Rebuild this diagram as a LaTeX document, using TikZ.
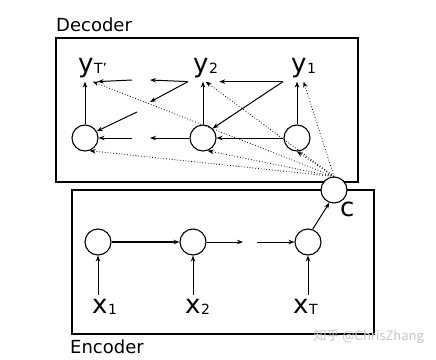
\documentclass[tikz,border=0pt]{standalone}
\usepackage{fontspec}
\setmainfont{DejaVu Sans}
\newfontfamily\cjkfont{Noto Sans CJK SC}
\usetikzlibrary{arrows.meta}

\newcommand{\lbl}[2]{#1\kern0.5pt\raisebox{-1.5pt}{\fontsize{14}{14}\selectfont #2}}

\begin{document}
\begin{tikzpicture}[x=1pt, y=-1pt,
    cell/.style={draw, circle, fill=white, line width=1.1pt, minimum size=26pt, inner sep=0pt},
    lab/.style={font=\fontsize{26}{26}\selectfont, inner xsep=1pt, inner ysep=4pt},
    title/.style={font=\fontsize{18}{18}\selectfont, inner sep=0pt, anchor=base west},
    arr/.style={-{Stealth[length=6pt,width=4.5pt]}, line width=1pt},
    cue/.style={-{Stealth[length=6pt,width=4.5pt]}, dotted, line width=0.8pt}]
    \useasboundingbox (0,0) rectangle (436,359);

    % Boxes
    \draw[line width=1.1pt] (56,38) rectangle (358,182);
    \draw[line width=1.1pt] (72,190) rectangle (374,334);
    \node[title] (dectitle) at (56,31) {Decoder};
    \node[title] (enctitle) at (70,353) {Encoder};

    % Decoder states and outputs
    \node[cell] (sT) at (85,138) {};
    \node[cell] (s2) at (203,138) {};
    \node[cell] (s1) at (297,138) {};
    \node[lab, anchor=base west] (yT) at (77,72) {\lbl{y}{T'}};
    \node[lab, anchor=base west] (y2) at (192,72) {\lbl{y}{2}};
    \node[lab, anchor=base west] (y1) at (290,72) {\lbl{y}{1}};

    % Encoder states and inputs
    \node[cell] (h1) at (98,242) {};
    \node[cell] (h2) at (193,242) {};
    \node[cell] (hT) at (308,242) {};
    \node[lab, anchor=base west] (x1) at (91,313) {\lbl{x}{1}};
    \node[lab, anchor=base west] (x2) at (184,313) {\lbl{x}{2}};
    \node[lab, anchor=base west] (xT) at (292,313) {\lbl{x}{T}};

    % Context vector
    \node[cell] (c) at (334,190) {};
    \node[lab, anchor=base west, inner sep=0pt] (clab) at (340,216) {c};

    % Gaps in the broken chains
    \coordinate (y1out) at ([xshift=-7pt]y1.south west);
    \coordinate (y2out) at ([xshift=-4pt]y2.south west);
    \coordinate (yTin) at ([xshift=5pt]yT.south);
    \coordinate (ta) at (150,80);
    \coordinate (tb) at (132,80);
    \coordinate (da) at (150,102);
    \coordinate (db) at (137,112);
    \coordinate (ma) at (150,138);
    \coordinate (mb) at (132,138);
    \coordinate (ea) at (243,242);
    \coordinate (eb) at (257,242);

    % Decoder edges
    \draw[arr] (sT) -- (sT |- yT.south);
    \draw[arr] (s2) -- (s2 |- y2.south);
    \draw[arr] (s1) -- (s1 |- y1.south);
    \draw[arr] (y1out) -- (y2.south east);
    \draw[arr] (y2out) -- (ta);
    \draw[arr] (tb) -- (yTin);
    \draw[arr] (y1out) -- (s2.north east);
    \draw[arr] (y2out) -- (da);
    \draw[arr] (db) -- (sT.30);
    \draw[arr] (s1) -- (s2);
    \draw[arr] (s2) -- (ma);
    \draw[arr] (mb) -- (sT);

    % Encoder edges
    \draw[arr] (h1 |- x1.north) -- (h1);
    \draw[arr] (h2 |- x2.north) -- (h2);
    \draw[arr] (hT |- xT.north) -- (hT);
    \draw[arr, line width=1.5pt] (h1) -- (h2);
    \draw[arr, line width=0.8pt] (h2) -- (ea);
    \draw[arr, line width=0.8pt] (eb) -- (hT);
    \draw[arr] (hT.70) -- (c.250);

    % Context to every decoder step
    \foreach \t in {yT.south, y2.south, y1.south, sT.-70, s2.-70, s1.-90}
        \draw[cue] (c.north) -- (\t);

    \node[text=black!22, font=\cjkfont\fontsize{13}{13}\selectfont, anchor=west] (mark) at (310,337) {知乎 @ChrisZhang};
\end{tikzpicture}
\end{document}
